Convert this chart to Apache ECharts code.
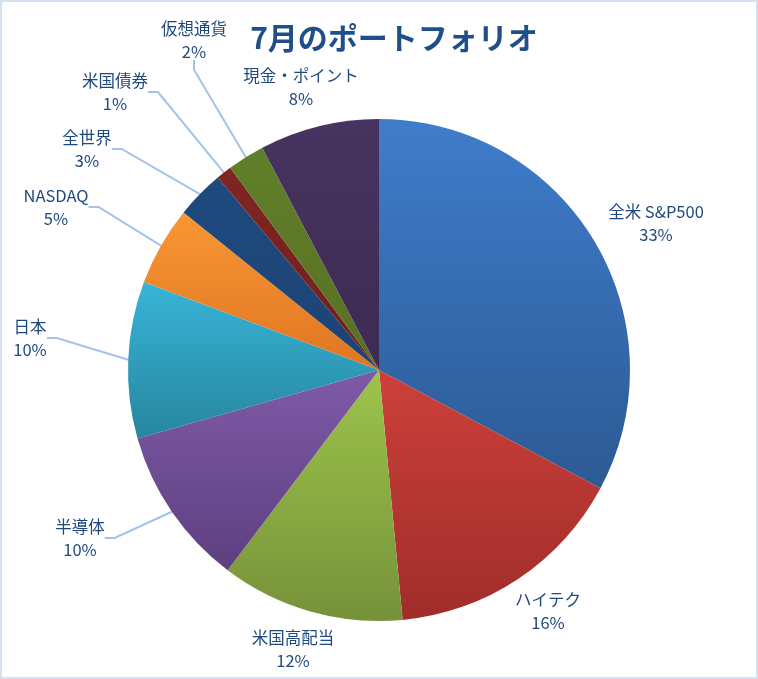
<!DOCTYPE html>
<html>
<head>
    <meta charset="utf-8">
    <title>7月のポートフォリオ</title>
    <script type="text/javascript" src="https://cdn.jsdelivr.net/npm/echarts@6/dist/echarts.min.js"></script>
    <style>
        html, body { margin: 0; padding: 0; background: #fff; }
        #pie { width: 758px; height: 679px; box-sizing: border-box; border: 2px solid #D5E1F1; }
    </style>
</head>
<body>
<div id="pie"></div>

<script type="text/javascript">
    // データ（時計回り、上から）
    var names = ['全米 S&P500', 'ハイテク', '米国高配当', '半導体', '日本', 'NASDAQ', '全世界', '米国債券', '仮想通貨', '現金・ポイント'];
    var values = [32.8, 15.7, 11.8, 10.3, 10.1, 5.1, 3.1, 1.0, 2.4, 7.7];

    // 各スライスのグラデーション（上, 下）
    var colorTop = ['#3F7DCB', '#CD403B', '#9DC44B', '#7F5AA7', '#38B4D8', '#F99733', '#1F4A7F', '#7F2623', '#61802A', '#47335F'];
    var colorBottom = ['#2C5A94', '#A02D2A', '#76923A', '#5D4080', '#27869F', '#DF7522', '#1D4373', '#6E1F1D', '#586F24', '#3D2B54'];

    // ラベル位置（中心、枠線2px分ずらす）と引き出し線の有無
    var labelPos = [[654, 221], [546, 609], [291, 647], [78, 536], [28, 336], [54, 205], [85, 147], [113, 90], [192, 38], [299, 85]];
    var showLine = [false, false, false, true, true, true, true, true, true, false];

    var myChart = echarts.init(document.getElementById('pie'));

    var seriesData = [];
    for (var i = 0; i < names.length; i++) {
        seriesData.push({
            name: names[i],
            value: values[i],
            itemStyle: {
                color: new echarts.graphic.LinearGradient(0, 0, 0, 1, [
                    { offset: 0, color: colorTop[i] },
                    { offset: 1, color: colorBottom[i] }
                ])
            },
            labelLine: { show: showLine[i] }
        });
    }

    var option = {
        animation: false,
        title: {
            text: '7月のポートフォリオ',
            left: 387,
            top: 16,
            textAlign: 'center',
            textStyle: {
                fontFamily: 'Noto Sans CJK JP',
                fontSize: 30,
                fontWeight: 'bold',
                color: '#1F4E8A'
            }
        },
        series: [
            {
                type: 'pie',
                center: [377, 368],
                radius: 251,
                startAngle: 90,
                clockwise: true,
                avoidLabelOverlap: false,
                itemStyle: {
                    borderWidth: 0
                },
                label: {
                    show: true,
                    position: 'outside',
                    formatter: function (p) {
                        return '{a|' + p.name + '}\n{a|' + Math.round(p.percent) + '%}';
                    },
                    rich: {
                        a: {
                            fontFamily: 'Noto Sans CJK JP',
                            fontSize: 16.5,
                            lineHeight: 23,
                            color: '#1F497D',
                            align: 'center'
                        }
                    }
                },
                labelLine: {
                    length: 20,
                    length2: 10,
                    smooth: false,
                    lineStyle: { color: '#A3C3E8', width: 2 }
                },
                labelLayout: function (params) {
                    var p = labelPos[params.dataIndex];
                    return {
                        x: p[0],
                        y: p[1],
                        align: 'center',
                        verticalAlign: 'middle'
                    };
                },
                data: seriesData
            }
        ]
    };
    myChart.setOption(option);
</script>
</body>
</html>
